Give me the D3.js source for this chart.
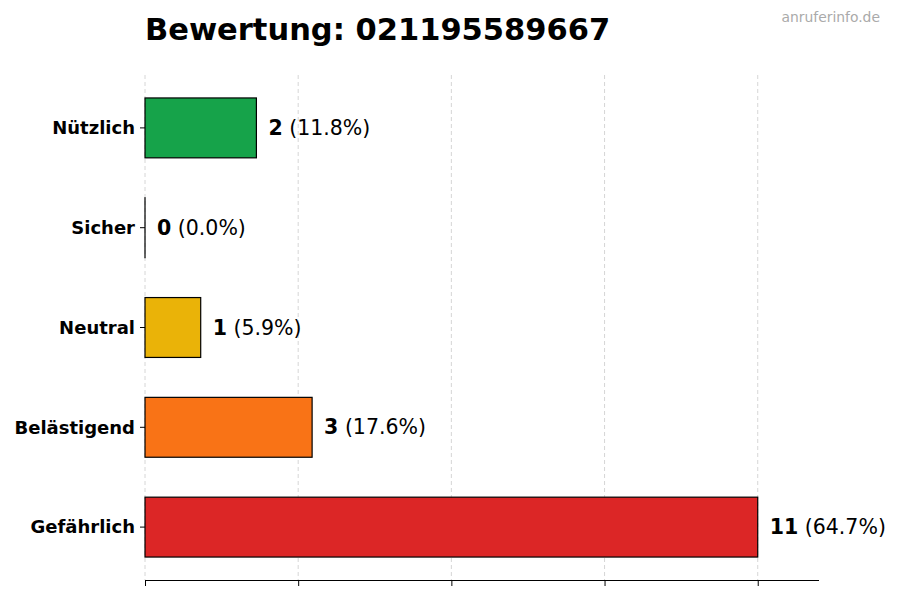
<!DOCTYPE html>
<html><head><meta charset="utf-8">
<script src="https://cdn.jsdelivr.net/npm/d3@7"></script>
<style>body{margin:0;background:#fff}svg{display:block}text{font-family:"DejaVu Sans",sans-serif}</style>
</head><body>
<svg id="c" width="900" height="600"></svg>
<script>
const categories = ["Nützlich","Sicher","Neutral","Belästigend","Gefährlich"];
const counts = [2,0,1,3,11];
const percents = ["11.8%","0.0%","5.9%","17.6%","64.7%"];
const colors = ["#16a34a","#3b82f6","#eab308","#f97316","#dc2626"];
const xTicks = [0,2.75,5.5,8.25,11];
const title = "Bewertung: 021195589667";
const watermark = "anruferinfo.de";

const svg = d3.select("#c");
const mLeft = 145, mRight = 819, mTop = 75, mBottom = 580;
const maxV = d3.max(counts);
const x = d3.scaleLinear().domain([0, maxV*1.1]).range([mLeft, mRight]);
const y = d3.scaleLinear().domain([-0.53, categories.length-1+0.53]).range([mTop, mBottom]);
const bh = (y(1)-y(0))*0.6;

// grid
svg.append("g").selectAll("line").data(xTicks).join("line")
  .attr("x1", d=>x(d)).attr("x2", d=>x(d)).attr("y1", mTop).attr("y2", mBottom)
  .attr("stroke","#cccccc").attr("stroke-width",0.8).attr("stroke-dasharray","4,3");

// bars
svg.append("g").selectAll("rect").data(categories).join("rect")
  .attr("x", x(0)).attr("y", (d,i)=>y(i)-bh/2)
  .attr("width", (d,i)=>Math.max(x(counts[i])-x(0),0.01)).attr("height", bh)
  .attr("fill", (d,i)=>colors[i]).attr("stroke","#000").attr("stroke-width",1.2);

// value labels
const lab = svg.append("g").selectAll("text").data(categories).join("text")
  .attr("x", (d,i)=>x(counts[i])+12).attr("y",(d,i)=>y(i)).attr("dy","0.35em")
  .attr("font-size",20.5).attr("fill","#000");
lab.append("tspan").attr("font-weight","bold").text((d,i)=>counts[i]);
lab.append("tspan").text((d,i)=>" ("+percents[i]+")");

// y axis (no spine)
const ya = svg.append("g");
ya.selectAll("line").data(categories).join("line")
  .attr("x1", mLeft-5).attr("x2", mLeft).attr("y1",(d,i)=>y(i)).attr("y2",(d,i)=>y(i))
  .attr("stroke","#000").attr("stroke-width",1);
ya.selectAll("text").data(categories).join("text")
  .attr("x", mLeft-10).attr("y",(d,i)=>y(i)).attr("dy","0.35em")
  .attr("text-anchor","end").attr("font-size",18).attr("font-weight","bold").text(d=>d);

// x axis
const xa = d3.axisBottom(x).tickValues(xTicks).tickSize(6).tickFormat("");
svg.append("g").attr("transform",`translate(0,${mBottom})`).call(xa)
  .call(g=>g.select(".domain").attr("d",`M${mLeft},0.5H${mRight}`).attr("stroke","#000"))
  .call(g=>g.selectAll(".tick line").attr("stroke","#000"));

svg.append("text").attr("x",mLeft).attr("y",40).attr("font-size",30.5).attr("font-weight","bold").text(title);
svg.append("text").attr("x",880).attr("y",22).attr("text-anchor","end").attr("font-size",13.9).attr("fill","#aaaaaa").text(watermark);
</script>
</body></html>
